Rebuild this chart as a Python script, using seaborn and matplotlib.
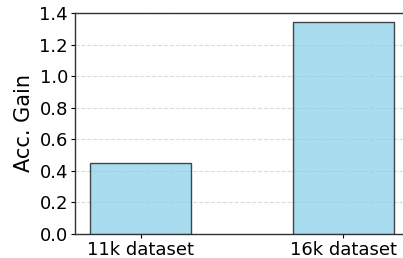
import matplotlib
matplotlib.use("Agg")
import matplotlib.pyplot as plt
import seaborn as sns
import pandas as pd

datasets = ["11k dataset", "16k dataset"]
acc_gain = [0.45, 1.34]
y_ticks = [0.0, 0.2, 0.4, 0.6, 0.8, 1.0, 1.2, 1.4]

df = pd.DataFrame({"dataset": datasets, "gain": acc_gain})

sns.set_style("white")
plt.rcParams["font.family"] = ["DejaVu Sans"]

fig = plt.figure(figsize=(4.03, 2.58), dpi=100)
ax = fig.add_axes([75 / 403, 1 - 234 / 258, (409 - 75) / 403, (234 - 13) / 258])

sns.barplot(data=df, x="dataset", y="gain", color="skyblue", edgecolor="black",
            linewidth=1, alpha=0.7, width=0.5, saturation=1, ax=ax, zorder=3)

ax.set_ylim(0, 1.4)
ax.set_yticks(y_ticks)
ax.set_yticklabels([f"{v:.1f}" for v in y_ticks])
ax.set_xlim(-0.323, 1.323)
ax.set_xlabel("")
ax.set_ylabel("Acc. Gain", fontsize=15, color="black", labelpad=4)
ax.tick_params(axis="both", labelsize=13, length=3, width=0.8, left=True, bottom=True,
               colors="black", pad=2)
ax.yaxis.grid(True, linestyle="--", color="lightgray", alpha=0.8, zorder=0)
ax.set_axisbelow(True)
for s in ax.spines.values():
    s.set_color("#333333")
    s.set_linewidth(1)

fig.savefig("out.png", dpi=100)
